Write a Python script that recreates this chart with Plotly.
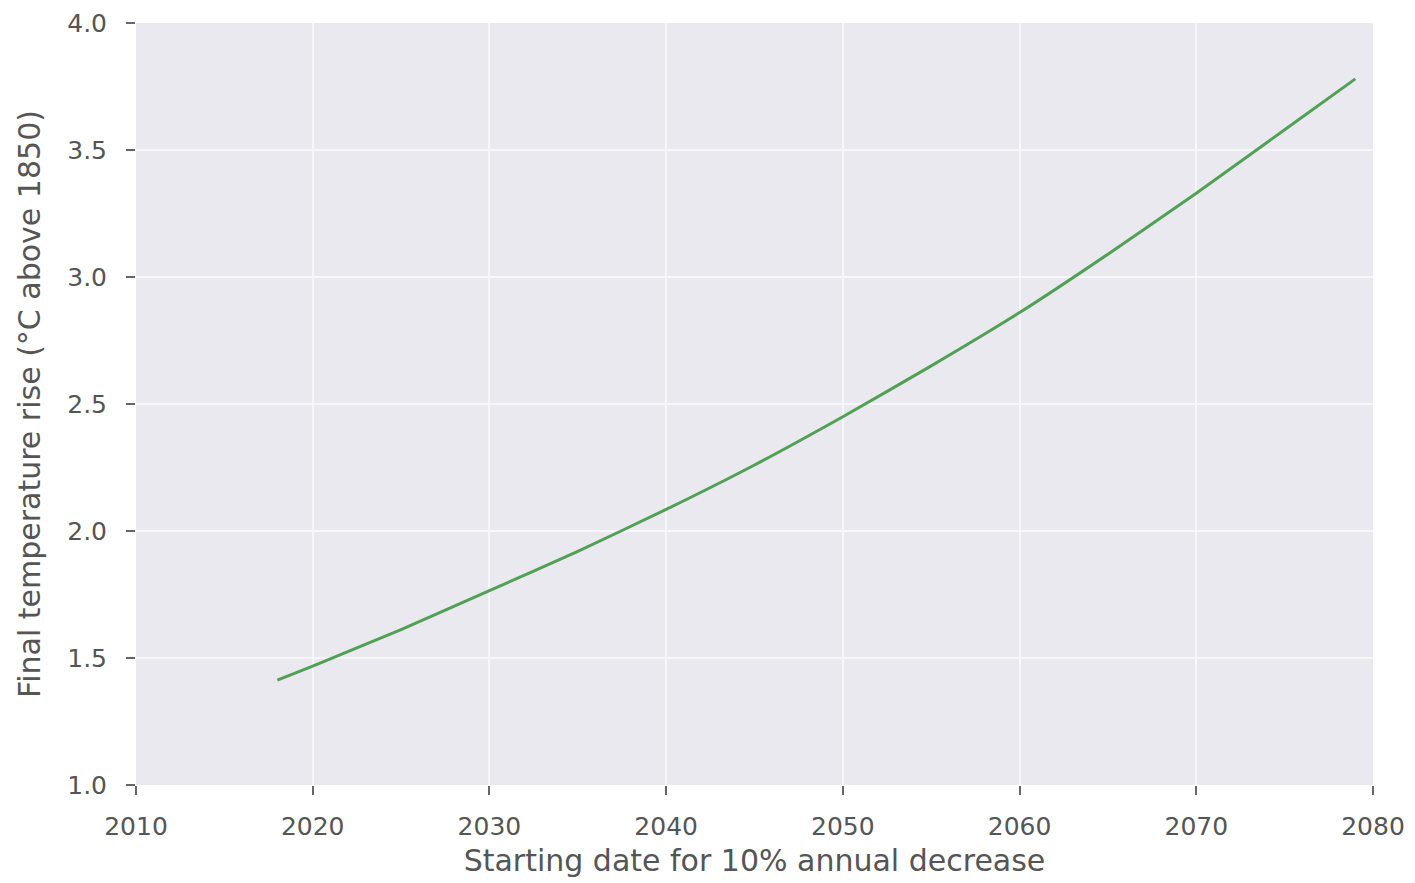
import plotly.graph_objects as go

years = [2018, 2020, 2025, 2030, 2035, 2040, 2045, 2050, 2055, 2060, 2065, 2070, 2075, 2079]
temp_rise = [1.413, 1.468, 1.612, 1.765, 1.92, 2.085, 2.26, 2.45, 2.65, 2.86, 3.09, 3.33, 3.58, 3.78]

x_ticks = [2010, 2020, 2030, 2040, 2050, 2060, 2070, 2080]
y_ticks = [1.0, 1.5, 2.0, 2.5, 3.0, 3.5, 4.0]
y_tick_labels = ["1.0", "1.5", "2.0", "2.5", "3.0", "3.5", "4.0"]

x_title = "Starting date for 10% annual decrease"
y_title = "Final temperature rise (°C above 1850)"

fig = go.Figure()
fig.add_trace(go.Scatter(
    x=years, y=temp_rise, mode="lines",
    line=dict(color="#52a055", width=3, shape="spline", smoothing=0.6),
    showlegend=False,
))

tick_font = dict(family="DejaVu Sans", size=25, color="#555555")
fig.update_layout(
    width=1415, height=883,
    margin=dict(l=128, r=50, t=15, b=106),
    paper_bgcolor="white",
    plot_bgcolor="#e9e9ef",
    xaxis=dict(
        range=[2010, 2080], tickvals=x_ticks, ticktext=[str(t) for t in x_ticks],
        showgrid=True, gridcolor="#f7f7fa", gridwidth=1.5, zeroline=False,
        ticks="outside", ticklen=9, tickcolor="#666666", tickwidth=1.5,
        tickfont=tick_font, showline=False, ticklabelstandoff=10,
        ticklabeloverflow="allow", automargin=False,
        title=dict(text=x_title, font=dict(family="DejaVu Sans", size=30, color="#555555"), standoff=9),
    ),
    yaxis=dict(
        range=[1.0, 4.0], tickvals=y_ticks, ticktext=y_tick_labels,
        showgrid=True, gridcolor="#f7f7fa", gridwidth=1.5, zeroline=False,
        ticks="outside", ticklen=9, tickcolor="#666666", tickwidth=1.5,
        tickfont=tick_font, showline=False, ticklabelstandoff=14,
        ticklabeloverflow="allow", automargin=False,
        title=dict(text=y_title, font=dict(family="DejaVu Sans", size=30, color="#555555"), standoff=17),
    ),
)

fig.write_html("out.html")
